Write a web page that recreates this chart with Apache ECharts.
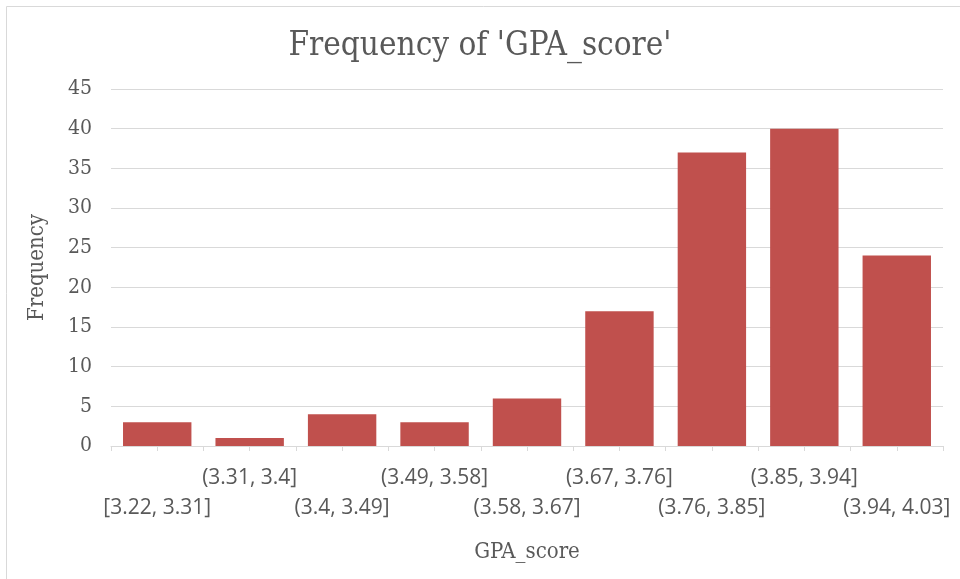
<!DOCTYPE html>
<html><head><meta charset="utf-8">
<script src="https://cdn.jsdelivr.net/npm/echarts@6/dist/echarts.min.js"></script>
<style>html,body{margin:0;padding:0;background:#fff}#c{width:960px;height:579px}</style>
</head><body><div id="c"></div>
<script>
const categories = ['[3.22, 3.31]','(3.31, 3.4]','(3.4, 3.49]','(3.49, 3.58]','(3.58, 3.67]','(3.67, 3.76]','(3.76, 3.85]','(3.85, 3.94]','(3.94, 4.03]'];
const frequency = [3, 1, 4, 3, 6, 17, 37, 40, 24];
const yTicks = {min: 0, max: 45, interval: 5};

const halfTicks = [];
categories.forEach(c => { halfTicks.push(''); halfTicks.push(''); });

const serif = "'DejaVu Serif Condensed', 'DejaVu Serif', serif";
const sans = "'Open Sans', sans-serif";
const grey = '#595959';
const lineC = '#d9d9d9';

const chart = echarts.init(document.getElementById('c'));
chart.setOption({
  animation: false,
  graphic: [{type: 'rect', shape: {x: 6.5, y: 6.5, width: 1000, height: 1000}, style: {fill: 'none', stroke: lineC, lineWidth: 1}, silent: true}],
  title: {text: "Frequency of 'GPA_score'", left: 'center', top: 25, textStyle: {fontFamily: serif, fontSize: 33, fontWeight: 'normal', color: grey}},
  grid: {left: 111, right: 17, top: 89, bottom: 133, containLabel: false},
  xAxis: [{
    type: 'category', data: categories, position: 'bottom',
    axisLine: {show: true, lineStyle: {color: lineC}},
    axisTick: {show: false},
    axisLabel: {interval: 0, margin: 17, fontFamily: sans, fontSize: 21, color: grey, lineHeight: 30,
      formatter: (v, i) => (i % 2 === 0 ? '\n' + v : v)},
    name: 'GPA_score', nameLocation: 'middle', nameGap: 95,
    nameTextStyle: {fontFamily: serif, fontSize: 22, color: grey}
  }, {
    type: 'category', data: halfTicks, position: 'bottom', gridIndex: 0,
    axisLine: {show: false}, axisLabel: {show: false},
    axisTick: {show: true, length: 5, lineStyle: {color: lineC}}
  }],
  yAxis: {
    type: 'value', min: yTicks.min, max: yTicks.max, interval: yTicks.interval,
    axisLine: {show: false}, axisTick: {show: false},
    splitLine: {lineStyle: {color: lineC}},
    axisLabel: {fontFamily: serif, fontSize: 21, color: grey, margin: 19},
    name: 'Frequency', nameLocation: 'middle', nameGap: 63, nameRotate: 90,
    nameTextStyle: {fontFamily: serif, fontSize: 22, color: grey}
  },
  series: [{type: 'bar', data: frequency, xAxisIndex: 0, barCategoryGap: '26%', itemStyle: {color: '#c0504d'}}]
});
</script></body></html>
